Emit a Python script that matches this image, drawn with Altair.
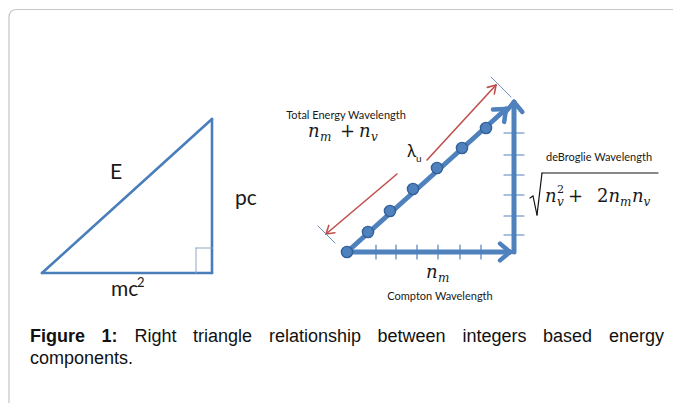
import math
import altair as alt
import pandas as pd

# ---------------- data (page pixel units) ----------------
# left triangle: E (hypotenuse), pc (vertical), mc^2 (base)
tri_x = [42, 212, 212, 42]
tri_y = [273, 273, 119, 273]
square_x = [196, 196, 212]
square_y = [273, 248, 248]

# right diagram
origin = (347, 252)
compton_tip = (510, 252)
debroglie_base = (514, 252)
debroglie_tip = (514, 102)
total_tip = (506, 109)
compton_ticks = [376, 396, 417, 438, 460, 481]
debroglie_ticks = [133, 155, 175, 195, 216, 235]
dots_x = [347, 368, 390, 413, 437, 462, 486]
dots_y = [252, 232, 211, 189, 168, 148, 128]
lambda_lower = [(397, 174), (326, 234)]
lambda_upper = [(427, 160), (496, 85)]
cap_lower = [(318, 226), (335, 243)]
cap_upper = [(491, 77), (511, 97)]
radical_x = [530, 533, 537, 542, 658]
radical_y = [198, 196, 215, 173, 173]

# text
sans_labels = ["E", "pc", "mc", "2", "Total Energy Wavelength", "deBroglie Wavelength", "Compton Wavelength", "λ", "u"]
sans_x = [116, 246, 111, 137, 346, 599, 440, 407, 416]
sans_y = [179, 205, 296, 287, 119, 161, 300, 157, 162]
sans_size = [21, 21, 21, 13, 11, 11, 11, 17, 10]
sans_align = ["center", "center", "left", "left", "center", "center", "center", "left", "left"]

math_italic = ["n", "m", "n", "v", "n", "v", "n", "m", "n", "v", "n", "m"]
math_it_x = [308, 320, 359, 371, 545, 557, 608.5, 620, 632, 643.5, 426, 438]
math_it_y = [137, 141, 137, 141, 202, 206, 202, 206, 202, 206, 278, 282]
math_it_size = [18, 12, 18, 12, 18, 12, 18, 12, 18, 12, 18, 12]
math_roman = ["+", "2", "+", "2"]
math_ro_x = [340, 557, 568, 597]
math_ro_y = [137, 193, 202, 202]
math_ro_size = [18, 11, 18, 18]

caption_words = ["Figure", "1:", "Right", "triangle", "relationship", "between", "integers", "based", "energy", "components."]
caption_x = [30, 101.5, 134.5, 193, 269, 377.5, 462.5, 543, 609, 30]
caption_y = [342, 342, 342, 342, 342, 342, 342, 342, 342, 364]
caption_bold = [True, True, False, False, False, False, False, False, False, False]

# ---------------- build tables ----------------
BLUE = "#4f81bd"
TRI = "#4a7ebb"
RED = "#c0504d"

segs = []


def seg(p, q, color, width):
    segs.append({"x": p[0], "y": p[1], "x2": q[0], "y2": q[1], "c": color, "w": width})


def chevron(tip, tail, length, deg, color, width):
    dx, dy = tail[0] - tip[0], tail[1] - tip[1]
    d = math.hypot(dx, dy)
    ux, uy = dx / d, dy / d
    for s in (1, -1):
        a = math.radians(deg * s)
        rx = ux * math.cos(a) - uy * math.sin(a)
        ry = ux * math.sin(a) + uy * math.cos(a)
        seg(tip, (tip[0] + length * rx, tip[1] + length * ry), color, width)


for i in range(len(tri_x) - 1):
    seg((tri_x[i], tri_y[i]), (tri_x[i + 1], tri_y[i + 1]), TRI, 2.6)
for i in range(len(square_x) - 1):
    seg((square_x[i], square_y[i]), (square_x[i + 1], square_y[i + 1]), "#8ea6c4", 1)

# blue axes/arrows
seg(origin, compton_tip, BLUE, 5)
chevron(compton_tip, origin, 13, 40, BLUE, 4.5)
seg(debroglie_base, debroglie_tip, BLUE, 5)
chevron(debroglie_tip, debroglie_base, 13, 40, BLUE, 4.5)
seg(origin, total_tip, BLUE, 5)
chevron(total_tip, origin, 13, 40, BLUE, 4.5)
for tx in compton_ticks:
    seg((tx, origin[1] - 7), (tx, origin[1] + 7), BLUE, 1.2)
for ty in debroglie_ticks:
    seg((debroglie_base[0] - 10, ty), (debroglie_base[0] + 10, ty), BLUE, 1.2)

# red lambda arrow
seg(lambda_lower[0], lambda_lower[1], RED, 1.6)
chevron(lambda_lower[1], lambda_lower[0], 9, 32, RED, 1.6)
seg(lambda_upper[0], lambda_upper[1], RED, 1.6)
chevron(lambda_upper[1], lambda_upper[0], 9, 32, RED, 1.6)
seg(cap_lower[0], cap_lower[1], "#6f93c0", 1)
seg(cap_upper[0], cap_upper[1], "#6f93c0", 1)

# radical sign
for i in range(len(radical_x) - 1):
    seg((radical_x[i], radical_y[i]), (radical_x[i + 1], radical_y[i + 1]), "#111111", 1.2)

seg_df = pd.DataFrame(segs)
dots_df = pd.DataFrame({"x": dots_x, "y": dots_y})
border_df = pd.DataFrame({"x": [9], "y": [9.5], "x2": [720], "y2": [440]})

sans_df = pd.DataFrame({"x": sans_x, "y": sans_y, "t": sans_labels, "s": sans_size, "a": sans_align})
it_df = pd.DataFrame({"x": math_it_x, "y": math_it_y, "t": math_italic, "s": math_it_size})
ro_df = pd.DataFrame({"x": math_ro_x, "y": math_ro_y, "t": math_roman, "s": math_ro_size})
cap_df = pd.DataFrame({"x": caption_x, "y": caption_y, "t": caption_words, "b": caption_bold})

W, H = 665, 395
xs = alt.Scale(domain=[8, 8 + W], nice=False, zero=False)
ys = alt.Scale(domain=[8, 8 + H], nice=False, zero=False, reverse=True)
X = alt.X("x:Q", scale=xs, axis=None)
Y = alt.Y("y:Q", scale=ys, axis=None)

border = alt.Chart(border_df).mark_rect(
    filled=False, stroke="#c6c6c6", strokeWidth=1.2, cornerRadius=7, clip=True
).encode(x=X, y=Y, x2="x2:Q", y2="y2:Q")

rules = alt.Chart(seg_df).mark_rule(strokeCap="round").encode(
    x=X, y=Y, x2="x2:Q", y2="y2:Q",
    color=alt.Color("c:N", scale=None),
    strokeWidth=alt.StrokeWidth("w:Q", scale=None),
)

dots = alt.Chart(dots_df).mark_circle(
    size=125, fill=BLUE, stroke="#31609a", strokeWidth=1.4, opacity=1
).encode(x=X, y=Y)


def text_layer(df, **kw):
    return alt.Chart(df).mark_text(baseline="alphabetic", color="#1a1a1a", **kw).encode(
        x=X, y=Y, text="t:N", size=alt.Size("s:Q", scale=None)
    )


sans_c = text_layer(sans_df[sans_df.a == "center"], align="center", font="Lato")
sans_l = text_layer(sans_df[sans_df.a == "left"], align="left", font="Lato")
it_t = text_layer(it_df, align="left", font="DejaVu Serif", fontStyle="italic")
ro_t = text_layer(ro_df, align="left", font="DejaVu Serif")

cap_b = alt.Chart(cap_df[cap_df.b]).mark_text(
    baseline="alphabetic", align="left", font="Liberation Sans", fontWeight="bold", fontSize=18, color="#111111"
).encode(x=X, y=Y, text="t:N")
cap_n = alt.Chart(cap_df[~cap_df.b]).mark_text(
    baseline="alphabetic", align="left", font="Liberation Sans", fontSize=18, color="#111111"
).encode(x=X, y=Y, text="t:N")

chart = alt.layer(border, rules, dots, sans_c, sans_l, it_t, ro_t, cap_b, cap_n).properties(
    width=W, height=H, padding=0, autosize=alt.AutoSizeParams(type="none"),
    background="white",
).configure_view(stroke=None)

chart.save("out.html", embed_options={"renderer": "svg", "actions": False})
